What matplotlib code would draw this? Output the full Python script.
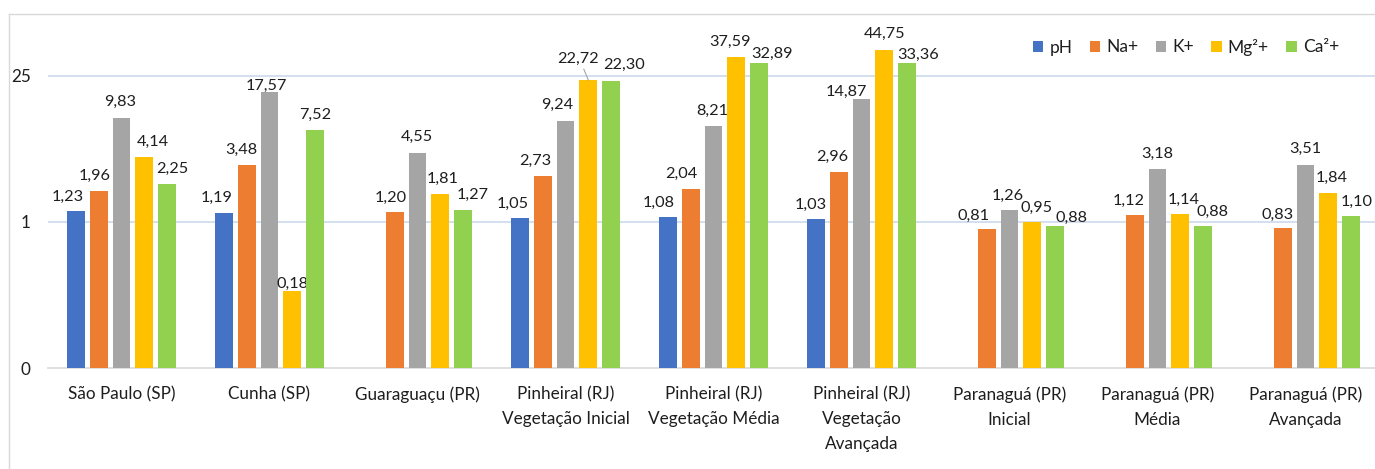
import numpy as np
import matplotlib.pyplot as plt

plt.rcParams['font.family'] = ['Lato', 'DejaVu Sans']

categories = ['São Paulo (SP)', 'Cunha (SP)', 'Guaraguaçu (PR)',
              'Pinheiral (RJ)\nVegetação Inicial', 'Pinheiral (RJ)\nVegetação Média',
              'Pinheiral (RJ)\nVegetação\nAvançada', 'Paranaguá (PR)\nInicial',
              'Paranaguá (PR)\nMédia', 'Paranaguá (PR)\nAvançada']
series = ['pH', 'Na+', 'K+', 'Mg²+', 'Ca²+']
ph = [1.23, 1.19, np.nan, 1.05, 1.08, 1.03, np.nan, np.nan, np.nan]
na = [1.96, 3.48, 1.20, 2.73, 2.04, 2.96, 0.81, 1.12, 0.83]
k = [9.83, 17.57, 4.55, 9.24, 8.21, 14.87, 1.26, 3.18, 3.51]
mg = [4.14, 0.18, 1.81, 22.72, 37.59, 44.75, 0.95, 1.14, 1.84]
ca = [2.25, 7.52, 1.27, 22.30, 32.89, 33.36, 0.88, 0.88, 1.10]
ytick_vals = [0.04, 1, 25]
ytick_labels = ['0', '1', '25']

colors = ['#4472C4', '#ED7D31', '#A5A5A5', '#FFC000', '#92D050']
txt = '#1E1E1E'
fs = 11.7

# data labels were placed by hand in the original: (category, series) -> (dx, dy) in pixels
nudges = {
    (0, 0): (-8, 0), (0, 1): (-4, 0), (0, 2): (-1, 0), (0, 3): (8, 0), (0, 4): (5, 0),
    (1, 0): (-7, 0), (1, 1): (-5, 0), (1, 2): (-3, -10),
    (2, 1): (-4, 0), (2, 2): (-1, 0), (2, 3): (2, 0), (2, 4): (9, 0),
    (3, 0): (-7, 0), (3, 1): (-7, 0), (3, 2): (-8, 0), (3, 3): (-10, 5), (3, 4): (13, 0),
    (4, 0): (-9, 0), (4, 1): (-9, 0), (4, 2): (-1, 0), (4, 3): (-6, 0), (4, 4): (13, -6),
    (5, 0): (-5, 0), (5, 1): (-6, 0), (5, 2): (-15, -8), (5, 4): (11, -8),
    (6, 1): (-13, 0), (6, 2): (-2, 0), (6, 3): (4, 0), (6, 4): (16, -6),
    (7, 1): (-6, 0), (7, 3): (3, 0), (7, 4): (9, 0),
    (8, 1): (-5, 0), (8, 3): (3, 0), (8, 4): (5, 0),
}

W, H = 1375, 469
fig = plt.figure(figsize=(W / 100, H / 100), dpi=100)
ax = fig.add_axes([47.5 / W, (H - 368) / H, 9 * 148 / W, (368 - 13.1) / H])

# chart border (top and left visible)
fig.add_artist(plt.Line2D([9 / W, 1], [1 - 14 / H, 1 - 14 / H], color='#D9D9D9', lw=1))
fig.add_artist(plt.Line2D([9 / W, 9 / W], [0, 1 - 14 / H], color='#D9D9D9', lw=1))

x = np.arange(len(categories)) + 0.5
step = 0.155
bw = 0.1216
px = 0.72  # points per pixel at dpi 100
for j, (name, vals) in enumerate(zip(series, [ph, na, k, mg, ca])):
    xs = x + (j - 2) * step
    ax.bar(xs, vals, width=bw, bottom=0.04, color=colors[j], label=name, zorder=3)
    for i, v in enumerate(vals):
        if np.isnan(v):
            continue
        dx, dy = nudges.get((i, j), (0, 0))
        lab = f'{v:.2f}'.replace('.', ',')
        kw = dict(xytext=(dx * px, 6.5 + dy * px), textcoords='offset points',
                  ha='center', va='bottom', fontsize=fs, color=txt)
        if (i, j) == (3, 3):
            kw['arrowprops'] = dict(arrowstyle='-', color='#A6A6A6', lw=0.8,
                                    shrinkA=0, shrinkB=0, relpos=(0.6, 0))
        ax.annotate(lab, (xs[i], v), **kw)

ax.set_yscale('log', base=25)
ax.set_ylim(0.04, 100)
ax.set_xlim(0, len(categories))
ax.set_yticks(ytick_vals)
ax.set_yticklabels(ytick_labels)
ax.yaxis.set_minor_locator(plt.NullLocator())
ax.set_xticks(x)
ax.set_xticklabels(categories, linespacing=1.7)
ax.tick_params(axis='y', length=0, pad=12, labelsize=fs + 0.6, labelcolor=txt)
ax.tick_params(axis='x', length=0, pad=13, labelsize=fs + 0.6, labelcolor=txt)

for yv in [1, 25]:
    ax.axhline(yv, color='#CCD9EE', lw=1.2, zorder=1)
for s in ['top', 'right', 'left']:
    ax.spines[s].set_visible(False)
ax.spines['bottom'].set_color('#D9D9D9')
ax.spines['bottom'].set_linewidth(1.2)

ax.legend(loc='center', bbox_to_anchor=(1186 / W, 1 - 47 / H), bbox_transform=fig.transFigure,
          ncol=5, frameon=False, fontsize=fs + 0.8, handlelength=0.6, handleheight=0.6,
          handletextpad=0.35, columnspacing=1.0, labelcolor=txt)

fig.savefig('out.png', dpi=100)
